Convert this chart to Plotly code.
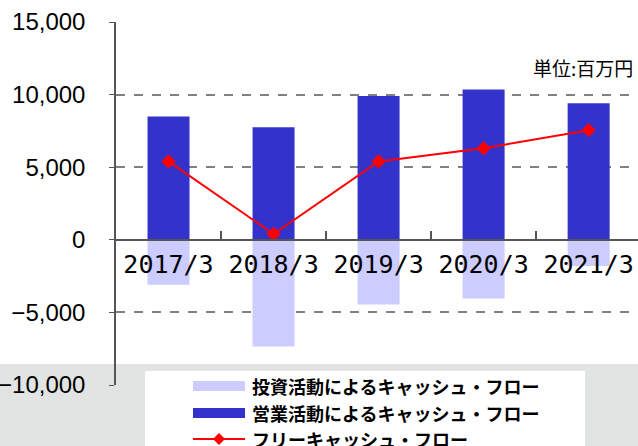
import plotly.graph_objects as go

# データ（単位：百万円）
categories = ['2017/3', '2018/3', '2019/3', '2020/3', '2021/3']
operating_cf = [8500, 7750, 9900, 10350, 9400]
investing_cf = [-3100, -7350, -4450, -4050, -1800]
free_cf = [5400, 400, 5400, 6300, 7550]

legend_labels = ['投資活動によるキャッシュ・フロー', '営業活動によるキャッシュ・フロー', 'フリーキャッシュ・フロー']
unit_label = '単位:百万円'

W, H = 638, 446
L, T, B = 116, 22, 61
plot_w = W - L
plot_h = H - T - B


def px_x(px):
    return (px - L) / plot_w


def px_y(py):
    return (H - B - py) / plot_h


fig = go.Figure()

fig.add_trace(go.Bar(x=categories, y=investing_cf, name=legend_labels[0], width=0.4,
                     marker=dict(color='#CCCCFF', line=dict(width=0))))
fig.add_trace(go.Bar(x=categories, y=operating_cf, name=legend_labels[1], width=0.4,
                     marker=dict(color='#3333CC', line=dict(width=0))))
fig.add_trace(go.Scatter(x=categories, y=free_cf, name=legend_labels[2], mode='lines+markers',
                         line=dict(color='#FF0000', width=2),
                         marker=dict(symbol='diamond', size=11, color='#FF0000')))

shapes = []
# 下部の灰色帯
shapes.append(dict(type='rect', xref='paper', yref='paper', layer='below',
                   x0=px_x(-5), x1=px_x(W + 5), y0=px_y(H + 5), y1=px_y(364),
                   fillcolor='#E1E4E3', line=dict(width=0)))
# 凡例の枠
shapes.append(dict(type='rect', xref='paper', yref='paper', layer='above',
                   x0=px_x(145), x1=px_x(585), y0=px_y(H + 5), y1=px_y(371),
                   fillcolor='white', line=dict(width=0)))
# 凡例記号
shapes.append(dict(type='rect', xref='paper', yref='paper', layer='above',
                   x0=px_x(193), x1=px_x(245), y0=px_y(391), y1=px_y(381),
                   fillcolor='#CCCCFF', line=dict(width=0)))
shapes.append(dict(type='rect', xref='paper', yref='paper', layer='above',
                   x0=px_x(193), x1=px_x(245), y0=px_y(418), y1=px_y(408),
                   fillcolor='#3333CC', line=dict(width=0)))
shapes.append(dict(type='line', xref='paper', yref='paper', layer='above',
                   x0=px_x(193), x1=px_x(245), y0=px_y(439), y1=px_y(439),
                   line=dict(color='#FF0000', width=2)))
cx, cy, d = 219, 439, 6
shapes.append(dict(type='path', xref='paper', yref='paper', layer='above',
                   path=f'M {px_x(cx - d)} {px_y(cy)} L {px_x(cx)} {px_y(cy - d)} '
                        f'L {px_x(cx + d)} {px_y(cy)} L {px_x(cx)} {px_y(cy + d)} Z',
                   fillcolor='#FF0000', line=dict(width=0)))

annotations = []
for label, ycen in zip(legend_labels, [386, 413, 439]):
    annotations.append(dict(text=f'<b>{label}</b>', xref='paper', yref='paper',
                            x=px_x(250), y=px_y(ycen), xanchor='left', yanchor='middle',
                            showarrow=False,
                            font=dict(family='Noto Sans CJK JP', size=18, color='black')))
annotations.append(dict(text=unit_label, xref='paper', yref='paper',
                        x=px_x(635), y=px_y(68), xanchor='right', yanchor='middle',
                        showarrow=False,
                        font=dict(family='Noto Sans CJK JP', size=19, color='black')))

fig.update_layout(
    width=W, height=H,
    margin=dict(l=L, r=0, t=T, b=B, pad=0),
    barmode='relative',
    showlegend=False,
    paper_bgcolor='white',
    plot_bgcolor='rgba(0,0,0,0)',
    shapes=shapes,
    annotations=annotations,
    xaxis=dict(
        type='category',
        range=[-0.5, 4.47],
        anchor='free', position=0.4,
        automargin=False,
        showline=True, linecolor='#555555', linewidth=1.5,
        ticks='inside', tickson='boundaries', ticklen=8, tickcolor='#555555', tickwidth=1.5,
        ticklabelstandoff=2,
        showgrid=False,
        tickfont=dict(family='DejaVu Sans Mono', size=25, color='black'),
    ),
    yaxis=dict(
        range=[-10000, 15000],
        dtick=5000,
        tickformat=',',
        automargin=False,
        showgrid=True, gridcolor='#808080', griddash='dash', gridwidth=1.5,
        zeroline=False,
        showline=True, linecolor='#555555', linewidth=1.5,
        ticks='outside', ticklen=5, tickcolor='#555555',
        ticklabelstandoff=19,
        tickfont=dict(family='Liberation Sans', size=24, color='black'),
    ),
)

# ページ余白をなくして図を窓の左上に合わせる
fig.write_html('out.html', config={'displayModeBar': False},
               post_script="document.body.style.margin='0px';")
